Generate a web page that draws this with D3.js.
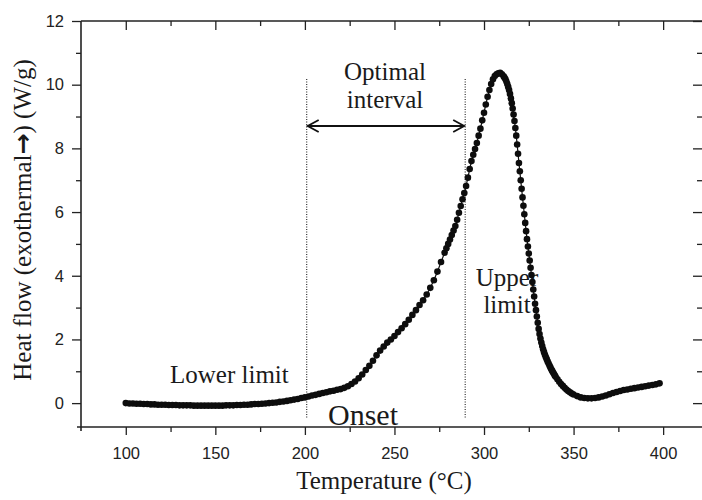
<!DOCTYPE html>
<html><head><meta charset="utf-8">
<script src="https://cdn.jsdelivr.net/npm/d3@7"></script>
<style>body{margin:0;background:#fff}</style>
</head><body><svg id="c" width="702" height="500"></svg>
<script>
const temps = [
100,102,104,106,108,110,112,114,116,118,120,122,124,126,128,130,132,134,136,138,
140,142,144,146,148,150,152,154,156,158,160,162,164,166,168,170,172,174,176,178,
180,182,184,186,188,190,192,194,196,198,200,202,204,206,208,210,212,214,216,218,
220,222,224,226,228,230,232,234,236,238,240,242,244,246,248,250,252,254,256,258,
260,262,264,266,268,270,272,274,276,278,
279,280,281,282,283,284,285,286,287,288,289,290,291,292,293,294,295,296,297,298,
299,300,301,302,303,304,305,306,307,308,309,310,311,
311.5,312,312.5,313,313.5,314,314.5,315,315.5,316,316.5,317,317.5,318,318.5,319,319.5,320,
320.5,321,321.5,322,322.5,323,323.5,324,324.5,325,325.5,326,326.5,327,327.5,328,328.5,329,329.5,330,
330.5,331,331.5,332,332.5,333,333.5,334,334.5,335,335.5,336,336.5,337,337.5,338,338.5,339,339.5,340,
341,342,343,344,345,346,347,348,349,350,
352,354,356,358,360,362,364,366,368,370,372,374,376,378,380,
382,384,386,388,390,392,394,396,398];
const heatFlow = [
0.00,-0.01,-0.01,-0.02,-0.02,-0.03,-0.03,-0.04,-0.04,-0.05,-0.05,-0.05,-0.06,-0.06,-0.06,-0.07,-0.07,-0.07,-0.07,-0.08,
-0.08,-0.08,-0.08,-0.08,-0.08,-0.08,-0.08,-0.08,-0.07,-0.07,-0.07,-0.06,-0.06,-0.05,-0.05,-0.04,-0.03,-0.03,-0.02,-0.01,
0.00,0.01,0.02,0.04,0.05,0.07,0.09,0.11,0.13,0.16,0.18,0.21,0.24,0.26,0.29,0.32,0.34,0.37,0.39,0.42,
0.44,0.48,0.53,0.60,0.68,0.78,0.90,1.04,1.17,1.33,1.50,1.65,1.78,1.90,2.00,2.11,2.23,2.35,2.48,2.62,
2.77,2.92,3.08,3.23,3.41,3.62,3.86,4.13,4.43,4.72,
4.86,5.00,5.14,5.28,5.42,5.56,5.76,5.98,6.19,6.40,6.60,6.82,7.08,7.35,7.60,7.80,7.98,8.17,8.40,8.62,
8.88,9.12,9.38,9.62,9.83,10.02,10.17,10.27,10.33,10.36,10.37,10.33,10.26,
10.22,10.17,10.10,10.02,9.93,9.83,9.71,9.57,9.42,9.25,9.06,8.86,8.64,8.40,8.12,7.83,7.54,7.28,
7.00,6.73,6.46,6.20,5.93,5.66,5.40,5.15,4.92,4.70,4.48,4.25,4.02,3.80,3.57,3.35,3.12,2.92,2.72,2.52,
2.33,2.17,2.03,1.90,1.79,1.69,1.60,1.52,1.45,1.38,1.31,1.25,1.19,1.13,1.07,1.02,0.97,0.92,0.87,0.83,
0.75,0.67,0.60,0.54,0.48,0.43,0.38,0.34,0.30,0.27,
0.22,0.18,0.16,0.15,0.15,0.16,0.18,0.21,0.24,0.28,0.32,0.35,0.38,0.41,0.43,
0.45,0.47,0.49,0.51,0.53,0.55,0.57,0.59,0.62];
const xTicks = [100,150,200,250,300,350,400];
const xMinorTicks = [125,175,225,275,325,375];
const yTicks = [0,2,4,6,8,10,12];
const yMinorTicks = [1,3,5,7,9,11];
const limits = [201, 289.5];

const svg = d3.select("#c");
const x = d3.scaleLinear().domain([75, 421.7]).range([81, 702]);
const y = d3.scaleLinear().domain([-0.75, 12]).range([427, 21]);
const data = temps.map((t,i)=>({t, v: heatFlow[i]}));

const tickFont = "'Liberation Sans', Arial, sans-serif";
const serif = "'Liberation Serif', 'Times New Roman', serif";

function styleAxis(g){
  g.select(".domain").remove();
  g.selectAll("line").attr("stroke","#222").attr("stroke-width",1.3);
  g.selectAll("text").attr("font-family",tickFont).attr("font-size",16.5).attr("fill","#222");
}
// bottom axis
svg.append("g").attr("transform","translate(0,427)")
  .call(d3.axisBottom(x).tickValues(xTicks).tickSize(8).tickPadding(12).tickFormat(d3.format("d")))
  .call(styleAxis);
svg.append("g").attr("transform","translate(0,427)")
  .call(d3.axisBottom(x).tickValues(xMinorTicks).tickSize(5).tickFormat(""))
  .call(styleAxis);
// top axis (inward)
svg.append("g").attr("transform","translate(0,21)")
  .call(d3.axisTop(x).tickValues(xTicks).tickSize(-9).tickFormat(""))
  .call(styleAxis);
svg.append("g").attr("transform","translate(0,21)")
  .call(d3.axisTop(x).tickValues(xMinorTicks).tickSize(-5).tickFormat(""))
  .call(styleAxis);
// left axis
svg.append("g").attr("transform","translate(81,0)")
  .call(d3.axisLeft(y).tickValues(yTicks).tickSize(9).tickPadding(8).tickFormat(d3.format("d")))
  .call(styleAxis);
svg.append("g").attr("transform","translate(81,0)")
  .call(d3.axisLeft(y).tickValues(yMinorTicks).tickSize(5).tickFormat(""))
  .call(styleAxis);
// right axis (inward)
svg.append("g").attr("transform","translate(702,0)")
  .call(d3.axisRight(y).tickValues(yTicks).tickSize(-9).tickFormat(""))
  .call(styleAxis);
svg.append("g").attr("transform","translate(702,0)")
  .call(d3.axisRight(y).tickValues(yMinorTicks).tickSize(-5).tickFormat(""))
  .call(styleAxis);

// frame
const fr = svg.append("g").attr("stroke","#222").attr("stroke-width",1.6).attr("fill","none");
fr.append("line").attr("x1",81).attr("x2",81).attr("y1",21).attr("y2",431);
fr.append("line").attr("x1",77).attr("x2",702).attr("y1",427).attr("y2",427);
fr.append("line").attr("x1",81).attr("x2",702).attr("y1",21).attr("y2",21);

// dotted limit lines
svg.selectAll(".lim").data(limits).join("line")
  .attr("x1",d=>x(d)).attr("x2",d=>x(d)).attr("y1",79).attr("y2",419)
  .attr("stroke","#333").attr("stroke-width",1.2).attr("stroke-dasharray","1,1.5");

// annotations (drawn beneath curve)
const ann = (t,xx,yy,size,anchor)=>svg.append("text").attr("x",xx).attr("y",yy)
  .attr("font-family",serif).attr("font-size",size).attr("fill","#1a1a1a")
  .attr("text-anchor",anchor||"start").text(t);
ann("Optimal",385,80,25,"middle");
ann("interval",385,108,25,"middle");
ann("Upper",507,286,25,"middle");
ann("limit",507,313,25,"middle");
ann("Lower limit",170,383,25);
ann("Onset",328,425,30);

// curve
svg.append("path").datum(data)
  .attr("d", d3.line().x(d=>x(d.t)).y(d=>y(d.v)))
  .attr("fill","none").attr("stroke","#111").attr("stroke-width",1.2);
svg.append("g").selectAll("circle").data(data).join("circle")
  .attr("cx",d=>x(d.t)).attr("cy",d=>y(d.v)).attr("r",3.3).attr("fill","#0d0d0d");

// double arrow
const ay = 126, ax1 = x(limits[0])+1, ax2 = x(limits[1])-1;
const ag = svg.append("g").attr("stroke","#111").attr("stroke-width",1.8).attr("fill","none");
ag.append("line").attr("x1",ax1).attr("x2",ax2).attr("y1",ay).attr("y2",ay);
ag.append("path").attr("d",`M${ax1+11},${ay-6} L${ax1},${ay} L${ax1+11},${ay+6}`);
ag.append("path").attr("d",`M${ax2-11},${ay-6} L${ax2},${ay} L${ax2-11},${ay+6}`);

// axis titles
svg.append("text").attr("x",384).attr("y",489).attr("text-anchor","middle")
  .attr("font-family",serif).attr("font-size",25).attr("fill","#1a1a1a").text("Temperature (°C)");
const yt = svg.append("text").attr("transform","translate(31,220) rotate(-90)")
  .attr("text-anchor","middle").attr("font-family",serif).attr("font-size",25).attr("fill","#1a1a1a");
yt.append("tspan").text("Heat flow (exothermal");
yt.append("tspan").attr("font-weight","bold").attr("font-family","'DejaVu Sans', sans-serif").text("→");
yt.append("tspan").text(") (W/g)");
</script>
</body></html>
